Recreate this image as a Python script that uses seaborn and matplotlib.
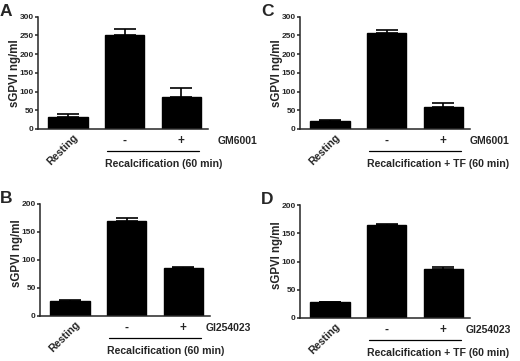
import matplotlib
matplotlib.use("Agg")
import matplotlib.pyplot as plt
import matplotlib.transforms as mtransforms
import seaborn as sns

# Values (mean and upper error)
conditions = ["Resting", "-", "+"]

a_mean = [33, 251, 85]
a_err = [7, 17, 24]
c_mean = [22, 256, 60]
c_err = [2, 8, 10]
b_mean = [27, 170, 86]
b_err = [1, 5, 1.5]
d_mean = [28, 165, 87]
d_err = [0.5, 1.5, 3.5]

a_ticks = [0, 50, 100, 150, 200, 250, 300]
b_ticks = [0, 50, 100, 150, 200]

inhibitor_ac = "GM6001"
inhibitor_bd = "GI254023"
group_ab = "Recalcification (60 min)"
group_cd = "Recalcification + TF (60 min)"
ylabel = "sGPVI ng/ml"

sns.set_style("ticks")
plt.rcParams["font.family"] = ["Liberation Sans", "DejaVu Sans"]
plt.rcParams["font.weight"] = "bold"

W, H = 520, 361
fig = plt.figure(figsize=(W / 100, H / 100), dpi=100)


def px_axes(left, top, right, bottom):
    return fig.add_axes([left / W, 1 - bottom / H, (right - left) / W, (bottom - top) / H])


def panel(ax, letter, letter_x, means, errs, yticks, inhibitor, group, inh_dx, ylab_y):
    sns.barplot(x=conditions, y=means, color="black", saturation=1,
                width=0.69, errorbar=None, ax=ax, edgecolor="black")
    ax.errorbar(range(len(means)), means, yerr=[[0] * len(errs), errs],
                fmt="none", ecolor="black", elinewidth=1.2, capsize=8, capthick=1.2)
    ax.set_xlim(-0.53, 2.47)
    ax.set_ylim(0, yticks[-1])
    ax.set_yticks(yticks)
    sns.despine(ax=ax)
    for s in ["left", "bottom"]:
        ax.spines[s].set_linewidth(1.1)
    ax.tick_params(axis="y", length=2.2, width=1.1, pad=0.8, labelsize=6)
    ax.tick_params(axis="x", length=0, pad=8.6, labelsize=8.5)
    for lab in ax.get_yticklabels():
        lab.set_fontweight("bold")
    ax.set_xlabel("")
    ax.set_ylabel(ylabel, fontsize=8.3, fontweight="bold")
    ax.yaxis.set_label_coords(-17 / 170, ylab_y)

    labs = ax.get_xticklabels()
    for lab in labs:
        lab.set_va("center")
        lab.set_fontweight("bold")
    first = labs[0]
    first.set_rotation(45)
    first.set_ha("right")
    first.set_rotation_mode("anchor")
    first.set_fontsize(7.7)
    first.set_transform(first.get_transform() +
                        mtransforms.ScaledTranslation(0.08, 0.05, fig.dpi_scale_trans))

    base = ax.get_xaxis_transform()
    ax.annotate(inhibitor, xy=(2, 0), xycoords=base, xytext=(inh_dx, -12 / 1.389),
                textcoords="offset points", ha="left", va="center",
                fontsize=7.5, fontweight="bold")
    line_tr = base + mtransforms.ScaledTranslation(0, -0.22, fig.dpi_scale_trans)
    ax.plot([0.68, 2.31], [0, 0], color="black", lw=0.9, transform=line_tr, clip_on=False)
    text_tr = base + mtransforms.ScaledTranslation(0, -0.35, fig.dpi_scale_trans)
    ax.text(0.66, 0, group, transform=text_tr, ha="left", va="center",
            fontsize=7.6, fontweight="bold")

    bb = ax.get_position()
    fig.text(letter_x / W, bb.y1 + 13 / H, letter,
             fontsize=12.5, fontweight="bold", ha="left", va="top")


ax_a = px_axes(38, 16.7, 208, 129)
ax_c = px_axes(300, 16.7, 470, 129)
ax_b = px_axes(40, 204, 210, 316)
ax_d = px_axes(300, 205, 470, 318)

panel(ax_a, "A", 0, a_mean, a_err, a_ticks, inhibitor_ac, group_ab, 26, 0.5)
panel(ax_c, "C", 261, c_mean, c_err, a_ticks, inhibitor_ac, group_cd, 19, 0.5)
panel(ax_b, "B", 0, b_mean, b_err, b_ticks, inhibitor_bd, group_ab, 16, 0.56)
panel(ax_d, "D", 261, d_mean, d_err, b_ticks, inhibitor_bd, group_cd, 16, 0.56)

fig.savefig("out.png", dpi=100)
